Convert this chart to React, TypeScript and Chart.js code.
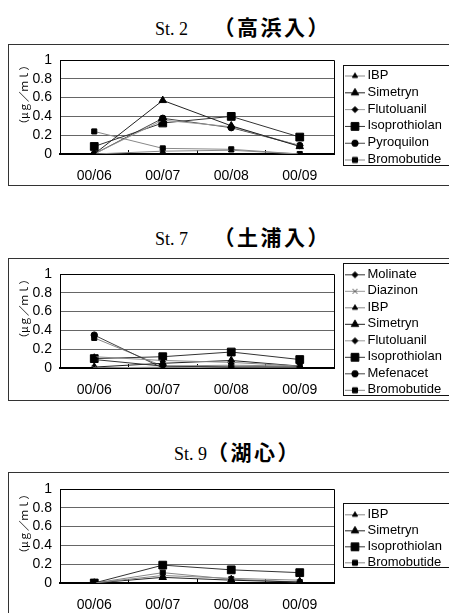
import React, { useEffect, useRef } from 'react';
import { Chart, registerables } from 'chart.js';
import { drawPoint } from 'chart.js/helpers';

Chart.register(...registerables);

// ---- data -------------------------------------------------------------
const months = ['00/06', '00/07', '00/08', '00/09'];
const yTickValues = [0, 0.2, 0.4, 0.6, 0.8, 1];
const yTickLabels = ['0', '0.2', '0.4', '0.6', '0.8', '1'];
const yAxisTitle = '（μｇ／ｍｌ）';

// St. 2 (高浜入)
const st2IBP = [0, 0.03, 0.04, 0];
const st2Simetryn = [0, 0.57, 0.3, 0.08];
const st2Flutoluanil = [0, 0.36, 0.29, 0.09];
const st2Isoprothiolane = [0.08, 0.33, 0.4, 0.18];
const st2Pyroquilon = [0, 0.38, 0.28, 0.09];
const st2Bromobutide = [0.24, 0.06, 0.05, 0];

// St. 7 (土浦入)
const st7Molinate = [0.09, 0.02, 0.01, 0.01];
const st7Diazinon = [0, 0, 0.01, 0];
const st7IBP = [0.12, 0.08, 0.06, 0.02];
const st7Simetryn = [0.01, 0.05, 0.08, 0.02];
const st7Flutoluanil = [0, 0.01, 0.02, 0.01];
const st7Isoprothiolane = [0.1, 0.12, 0.17, 0.09];
const st7Mefenacet = [0.35, 0, 0, 0];
const st7Bromobutide = [0.32, 0.02, 0.03, 0.02];

// St. 9 (湖心)
const st9IBP = [0, 0.08, 0.05, 0.03];
const st9Simetryn = [0, 0.06, 0.03, 0.01];
const st9Isoprothiolane = [0, 0.19, 0.14, 0.11];
const st9Bromobutide = [0, 0.11, 0.04, 0.01];

// ---- styles -------------------------------------------------------------
type MarkStyle = { pointStyle: string; radius: number; line: string; mark: string };

const MARKS: Record<string, MarkStyle> = {
  Molinate: { pointStyle: 'rectRot', radius: 3, line: '#333', mark: '#000' },
  Diazinon: { pointStyle: 'crossRot', radius: 3.5, line: '#999', mark: '#555' },
  IBP: { pointStyle: 'triangle', radius: 3, line: '#888', mark: '#000' },
  Simetryn: { pointStyle: 'triangle', radius: 4.3, line: '#222', mark: '#000' },
  Flutoluanil: { pointStyle: 'rectRot', radius: 3, line: '#999', mark: '#000' },
  Isoprothiolane: { pointStyle: 'rect', radius: 5.5, line: '#333', mark: '#000' },
  Pyroquilon: { pointStyle: 'circle', radius: 3.2, line: '#444', mark: '#000' },
  Mefenacet: { pointStyle: 'circle', radius: 3.2, line: '#444', mark: '#000' },
  Bromobutide: { pointStyle: 'rect', radius: 3.6, line: '#888', mark: '#000' },
};

const SANS = "'Liberation Sans', Arial, sans-serif";
const CJK = "'Noto Sans CJK JP', sans-serif";
const CANVAS_W = 451;
const Y_AXIS_W = 51;
const LEGEND_FONT = 13;
const LEGEND_X = 336; // start of the legend key line (canvas px)
const LEGEND_BOX_X = 334;

type Series = { name: string; data: number[] };
type PanelCfg = {
  station: string;
  place: string;
  titleLeft: number;
  titleTop: number;
  frameTop: number;
  frameHeight: number;
  canvasHeight: number;
  plotTop: number;
  plotBottom: number;
  legendFirst: number;
  legendStep: number;
  series: Series[];
};

const panels: PanelCfg[] = [
  {
    station: 'St. 2\u3000\u3000',
    place: '（高浜入）',
    titleLeft: 155,
    titleTop: 14,
    frameTop: 44,
    frameHeight: 142,
    canvasHeight: 140,
    plotTop: 15,
    plotBottom: 109,
    legendFirst: 30.5,
    legendStep: 16.8,
    series: [
      { name: 'IBP', data: st2IBP },
      { name: 'Simetryn', data: st2Simetryn },
      { name: 'Flutoluanil', data: st2Flutoluanil },
      { name: 'Isoprothiolane', data: st2Isoprothiolane },
      { name: 'Pyroquilon', data: st2Pyroquilon },
      { name: 'Bromobutide', data: st2Bromobutide },
    ],
  },
  {
    station: 'St. 7\u3000\u3000',
    place: '（土浦入）',
    titleLeft: 155,
    titleTop: 224,
    frameTop: 258,
    frameHeight: 143,
    canvasHeight: 141,
    plotTop: 15,
    plotBottom: 109,
    legendFirst: 15.3,
    legendStep: 16.5,
    series: [
      { name: 'Molinate', data: st7Molinate },
      { name: 'Diazinon', data: st7Diazinon },
      { name: 'IBP', data: st7IBP },
      { name: 'Simetryn', data: st7Simetryn },
      { name: 'Flutoluanil', data: st7Flutoluanil },
      { name: 'Isoprothiolane', data: st7Isoprothiolane },
      { name: 'Mefenacet', data: st7Mefenacet },
      { name: 'Bromobutide', data: st7Bromobutide },
    ],
  },
  {
    station: 'St. 9',
    place: '（湖心）',
    titleLeft: 174,
    titleTop: 439,
    frameTop: 472,
    frameHeight: 200,
    canvasHeight: 150,
    plotTop: 16,
    plotBottom: 110,
    legendFirst: 41.3,
    legendStep: 16,
    series: [
      { name: 'IBP', data: st9IBP },
      { name: 'Simetryn', data: st9Simetryn },
      { name: 'Isoprothiolane', data: st9Isoprothiolane },
      { name: 'Bromobutide', data: st9Bromobutide },
    ],
  },
];

// Legend key: a short line with the series marker in its middle.
function legendKey(style: MarkStyle): HTMLCanvasElement {
  const c = document.createElement('canvas');
  c.width = 24;
  c.height = 12;
  const ctx = c.getContext('2d')!;
  ctx.strokeStyle = style.line;
  ctx.lineWidth = 1;
  ctx.beginPath();
  ctx.moveTo(4, 6.5);
  ctx.lineTo(24, 6.5);
  ctx.stroke();
  ctx.fillStyle = style.mark;
  ctx.strokeStyle = style.mark;
  drawPoint(ctx, { pointStyle: style.pointStyle as any, radius: style.radius, rotation: 0, borderWidth: 1 }, 14, 6.5);
  return c;
}

function buildConfig(cfg: PanelCfg): any {
  const pad = cfg.legendStep - LEGEND_FONT;
  const n = cfg.series.length;

  const decor = {
    id: 'panelDecor',
    afterLayout(chart: any) {
      const lg = chart.legend;
      if (!lg) return;
      lg.left = LEGEND_X - pad;
      lg.right = lg.left + lg.width;
      lg.top = cfg.legendFirst - LEGEND_FONT / 2 - pad;
      lg.bottom = lg.top + n * cfg.legendStep + pad + 6;
    },
    beforeDatasetsDraw(chart: any) {
      const { ctx, chartArea: a, scales } = chart;
      const xs = scales.x;
      const al = (p: number) => Math.round(p - 0.5) + 0.5;
      ctx.save();
      ctx.strokeStyle = '#000';
      ctx.lineWidth = 1;
      ctx.beginPath();
      // top and right edges of the plot box
      ctx.moveTo(al(a.left), al(a.top));
      ctx.lineTo(al(a.right), al(a.top));
      ctx.lineTo(al(a.right), a.bottom);
      // small ticks between categories, pointing into the plot
      for (let i = 0; i < months.length - 1; i++) {
        const px = al((xs.getPixelForValue(i) + xs.getPixelForValue(i + 1)) / 2);
        ctx.moveTo(px, a.bottom);
        ctx.lineTo(px, a.bottom - 4);
      }
      ctx.stroke();
      ctx.restore();
    },
    afterDraw(chart: any) {
      const { ctx } = chart;
      const top = Math.round(cfg.legendFirst - 11) + 0.5;
      const bottom = Math.round(cfg.legendFirst + (n - 1) * cfg.legendStep + 5) + 0.5;
      ctx.save();
      ctx.strokeStyle = '#111';
      ctx.lineWidth = 1;
      ctx.strokeRect(LEGEND_BOX_X + 0.5, top, 200, bottom - top);
      ctx.restore();
    },
  };

  return {
    type: 'line',
    data: {
      labels: months,
      datasets: cfg.series.map((s) => {
        const st = MARKS[s.name];
        return {
          label: s.name,
          data: s.data,
          borderColor: st.line,
          borderWidth: 1,
          pointStyle: st.pointStyle,
          pointRadius: st.radius,
          pointBackgroundColor: st.mark,
          pointBorderColor: st.mark,
          pointBorderWidth: 1,
          tension: 0,
          fill: false,
        };
      }),
    },
    options: {
      responsive: false,
      animation: false,
      layout: { padding: { top: 0, bottom: 0, left: 0, right: CANVAS_W - 325 - 100 } },
      scales: {
        x: {
          type: 'category',
          offset: true,
          grid: { display: false, drawTicks: false },
          border: { display: true, color: '#000', width: 2 },
          ticks: {
            color: '#000',
            font: { family: SANS, size: 14 },
            padding: 13.5,
            maxRotation: 0,
            autoSkip: false,
          },
          afterFit: (s: any) => {
            s.height = cfg.canvasHeight - cfg.plotBottom;
            s.paddingLeft = 0;
            s.paddingRight = 0;
          },
        },
        y: {
          min: 0,
          max: 1,
          afterBuildTicks: (s: any) => {
            s.ticks = yTickValues.map((v) => ({ value: v }));
          },
          ticks: {
            color: '#000',
            font: { family: SANS, size: 14 },
            padding: 8,
            autoSkip: false,
            callback: (_v: any, i: number) => yTickLabels[i],
          },
          grid: { color: '#666', lineWidth: 1, drawTicks: false },
          border: { display: true, color: '#000', width: 1 },
          title: {
            display: true,
            text: yAxisTitle,
            align: 'end',
            color: '#000',
            font: { family: CJK, size: 10.5 },
            padding: { top: 8.5, bottom: 0 },
          },
          afterFit: (s: any) => {
            s.width = Y_AXIS_W;
            s.paddingTop = cfg.plotTop;
          },
        },
      },
      plugins: {
        legend: {
          position: 'right',
          align: 'start',
          maxWidth: 100,
          labels: {
            usePointStyle: true,
            pointStyleWidth: 16,
            padding: pad,
            color: '#000',
            font: { family: SANS, size: LEGEND_FONT },
            generateLabels: (chart: any) =>
              chart.data.datasets.map((ds: any, i: number) => ({
                text: ds.label,
                pointStyle: legendKey(MARKS[ds.label]),
                datasetIndex: i,
                hidden: false,
                lineWidth: 0,
                fontColor: '#000',
                fillStyle: '#000',
                strokeStyle: '#000',
              })),
          },
        },
        tooltip: { enabled: false },
        title: { display: false },
      },
    },
    plugins: [decor],
  };
}

function Panel({ cfg }: { cfg: PanelCfg }) {
  const ref = useRef<HTMLCanvasElement>(null);
  useEffect(() => {
    const chart = new Chart(ref.current!, buildConfig(cfg));
    return () => chart.destroy();
  }, [cfg]);
  return (
    <>
      <div
        style={{
          position: 'absolute',
          left: cfg.titleLeft,
          top: cfg.titleTop,
          lineHeight: '24px',
          whiteSpace: 'pre',
          color: '#000',
        }}
      >
        <span style={{ fontFamily: "'Liberation Serif', 'Times New Roman', serif", fontSize: 18 }}>{cfg.station}</span>
        <span style={{ fontFamily: CJK, fontWeight: 700, fontSize: 21, letterSpacing: 2.5 }}>{cfg.place}</span>
      </div>
      <div
        style={{
          position: 'absolute',
          left: 8,
          top: cfg.frameTop,
          width: 470,
          height: cfg.frameHeight,
          border: '1px solid #333',
          boxSizing: 'border-box',
        }}
      >
        <canvas
          ref={ref}
          width={CANVAS_W}
          height={cfg.canvasHeight}
          style={{ position: 'absolute', left: 0, top: 0, width: CANVAS_W, height: cfg.canvasHeight }}
        />
      </div>
    </>
  );
}

export default function App() {
  return (
    <div
      style={{
        position: 'absolute',
        left: 0,
        top: 0,
        width: 449,
        height: 613,
        overflow: 'hidden',
        background: '#fff',
      }}
    >
      {panels.map((p) => (
        <Panel key={p.station} cfg={p} />
      ))}
    </div>
  );
}
